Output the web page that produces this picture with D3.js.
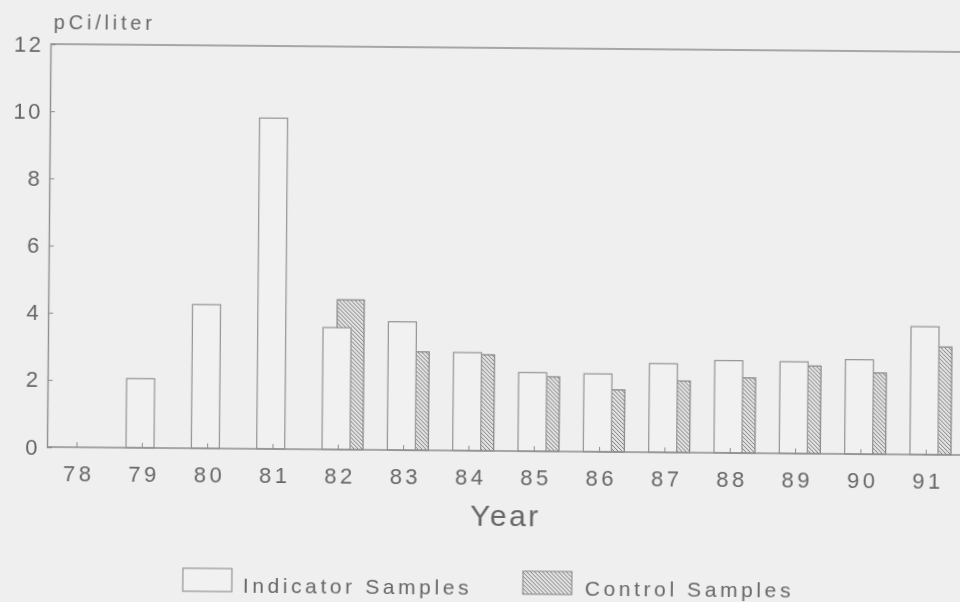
<!DOCTYPE html>
<html>
<head>
<meta charset="utf-8">
<script src="https://cdn.jsdelivr.net/npm/d3@7"></script>
<style>
  html, body { margin: 0; padding: 0; background: #efefef; }
  svg { display: block; }
  text { font-family: "Liberation Sans", Arial, sans-serif; fill: #666; }
</style>
</head>
<body>
<svg id="chart" width="960" height="602"></svg>
<script>
const years = ["78","79","80","81","82","83","84","85","86","87","88","89","90","91"];
const indicatorValues = [null, 2.06, 4.28, 9.85, 3.63, 3.82, 2.92, 2.34, 2.32, 2.64, 2.75, 2.73, 2.81, 3.81];
const controlValues   = [null, null, null, null, 4.46, 2.93, 2.86, 2.22, 1.85, 2.13, 2.24, 2.61, 2.42, 3.21];
const yTickValues = [0, 2, 4, 6, 8, 10, 12];
const unitLabel = "pCi/liter";
const xTitle = "Year";
const seriesNames = ["Indicator Samples", "Control Samples"];

const svg = d3.select("#chart");
svg.append("rect").attr("width", 960).attr("height", 602).attr("fill", "#efefef");

const defs = svg.append("defs");
const pat = defs.append("pattern").attr("id", "hatch")
  .attr("patternUnits", "userSpaceOnUse").attr("width", 4).attr("height", 4);
pat.append("rect").attr("width", 4).attr("height", 4).attr("fill", "#e2e2e2");
pat.append("path").attr("d", "M-1,-1 L5,5 M-1,3 L1,5 M3,-1 L5,1")
  .attr("stroke", "#808080").attr("stroke-width", 1);
defs.append("filter").attr("id", "soft").attr("x", "-5%").attr("y", "-5%").attr("width", "110%").attr("height", "110%")
  .append("feGaussianBlur").attr("stdDeviation", 0.55);

const g = svg.append("g").attr("transform", "rotate(0.5, 47, 447)").attr("filter", "url(#soft)");

const x = d3.scaleBand().domain(years).range([44.3, 44.3 + 14 * 65.33]).padding(0);
const sub = d3.scalePoint().domain(["ind", "ctl"]).range([16.4, 30.4]);
const y = d3.scaleLinear().domain([0, 12]).range([447, 44]);
const subW = { ind: 28, ctl: 27 };
const lineCol = "#8e8e8e";

// top frame line
g.append("line").attr("x1", 47).attr("x2", 980).attr("y1", y(12)).attr("y2", y(12))
  .attr("stroke", lineCol).attr("stroke-width", 1.4);

// bars: control behind indicator
const ctlData = years.map((yr, i) => ({ yr, v: controlValues[i] })).filter(d => d.v != null);
const indData = years.map((yr, i) => ({ yr, v: indicatorValues[i] })).filter(d => d.v != null);

g.selectAll("rect.ctl").data(ctlData).enter().append("rect").attr("class", "ctl")
  .attr("x", d => x(d.yr) + sub("ctl")).attr("width", subW.ctl)
  .attr("y", d => y(d.v)).attr("height", d => y(0) - y(d.v))
  .attr("fill", "url(#hatch)").attr("stroke", "#858585").attr("stroke-width", 1.2);

g.selectAll("rect.ind").data(indData).enter().append("rect").attr("class", "ind")
  .attr("x", d => x(d.yr) + sub("ind")).attr("width", subW.ind)
  .attr("y", d => y(d.v)).attr("height", d => y(0) - y(d.v))
  .attr("fill", "#f1f1f1").attr("stroke", "#939393").attr("stroke-width", 1.2);

// y axis
const yAxis = d3.axisLeft(y).tickValues(yTickValues).tickSize(-5).tickPadding(7).tickFormat(d3.format("d"));
const ya = g.append("g").attr("transform", "translate(47,0)").call(yAxis);
ya.select(".domain").attr("stroke", lineCol).attr("stroke-width", 1.4);
ya.selectAll(".tick line").attr("stroke", lineCol);
ya.selectAll(".tick text").attr("font-size", 22).attr("letter-spacing", 2.5).attr("fill", "#666")
  .attr("font-family", "Liberation Sans, Arial, sans-serif");

// x axis
const xAxis = d3.axisBottom(x).tickSize(-5).tickPadding(18).tickSizeOuter(0);
const xa = g.append("g").attr("transform", `translate(0,${y(0)})`).call(xAxis);
xa.select(".domain").attr("stroke", lineCol).attr("stroke-width", 1.4)
  .attr("d", `M47,0H980`);
xa.selectAll(".tick line").attr("stroke", lineCol);
xa.selectAll(".tick text").attr("font-size", 22).attr("letter-spacing", 3.5).attr("dx", 2)
  .attr("fill", "#666").attr("font-family", "Liberation Sans, Arial, sans-serif");

// labels
g.append("text").attr("x", 50).attr("y", 29).attr("font-size", 20).attr("letter-spacing", 3.8)
  .text(unitLabel);
g.append("text").attr("x", 506).attr("y", 522).attr("text-anchor", "middle")
  .attr("font-size", 30).attr("letter-spacing", 2.5).text(xTitle);

// legend
const legendItems = [
  { name: seriesNames[0], bx: 184, tx: 244, fill: "#f1f1f1" },
  { name: seriesNames[1], bx: 524, tx: 586, fill: "url(#hatch)" }
];
const lg = g.selectAll("g.leg").data(legendItems).enter().append("g").attr("class", "leg");
lg.append("rect").attr("x", d => d.bx).attr("y", 567).attr("width", 49).attr("height", 23)
  .attr("fill", d => d.fill).attr("stroke", "#939393").attr("stroke-width", 1.2);
lg.append("text").attr("x", d => d.tx).attr("y", 591).attr("font-size", 21)
  .attr("letter-spacing", 3.6).text(d => d.name);
</script>
</body>
</html>
